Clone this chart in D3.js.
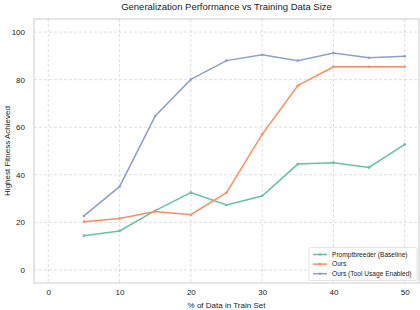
<!DOCTYPE html>
<html><head><meta charset="utf-8">
<script src="https://cdn.jsdelivr.net/npm/d3@7"></script>
<style>body{margin:0;background:#fff}svg{display:block}text{font-family:"Liberation Sans",Arial,sans-serif;fill:#222}</style>
</head><body>
<svg id="c" width="420" height="310"></svg>
<script>
const xVals = [5,10,15,20,25,30,35,40,45,50];
const baseline = [14.4,16.4,24.9,32.5,27.3,31.1,44.5,45.1,43.1,52.8];
const ours = [20.3,21.6,24.6,23.2,32.5,57,77.5,85.4,85.4,85.4];
const oursTool = [22.7,35,64.7,80.1,88,90.5,88,91.2,89.2,89.8];
const seriesNames = ["Promptbreeder (Baseline)","Ours","Ours (Tool Usage Enabled)"];
const colors = ["#66c2a5","#fc8d62","#8da0cb"];
const xTicks = [0,10,20,30,40,50];
const yTicks = [0,20,40,60,80,100];

const svg = d3.select("#c");
const L=34,R=419,T=19,B=283;
const x = d3.scaleLinear().domain([-2,52]).range([L,R]);
const y = d3.scaleLinear().domain([-5.5,105.5]).range([B,T]);

// grid
svg.append("g").selectAll("line").data(xTicks).join("line")
 .attr("x1",d=>x(d)).attr("x2",d=>x(d)).attr("y1",T).attr("y2",B)
 .attr("stroke","#d6d6d6").attr("stroke-width",0.8).attr("stroke-dasharray","3,2");
svg.append("g").selectAll("line").data(yTicks).join("line")
 .attr("y1",d=>y(d)).attr("y2",d=>y(d)).attr("x1",L).attr("x2",R)
 .attr("stroke","#d6d6d6").attr("stroke-width",0.8).attr("stroke-dasharray","3,2");

// frame
svg.append("rect").attr("x",L).attr("y",T).attr("width",R-L).attr("height",B-T)
 .attr("fill","none").attr("stroke","#cccccc").attr("stroke-width",1);

// axes
const xa = svg.append("g").attr("transform",`translate(0,${B})`)
 .call(d3.axisBottom(x).tickValues(xTicks).tickSize(0).tickPadding(6));
xa.select(".domain").remove();
xa.selectAll("text").attr("font-size",8).style("fill","#222");
const ya = svg.append("g").attr("transform",`translate(${L},0)`)
 .call(d3.axisLeft(y).tickValues(yTicks).tickSize(0).tickPadding(9));
ya.select(".domain").remove();
ya.selectAll("text").attr("font-size",8).style("fill","#222");

// lines
const data = [baseline,ours,oursTool];
const line = d3.line().x((d,i)=>x(xVals[i])).y(d=>y(d));
data.forEach((s,k)=>{
  svg.append("path").datum(s).attr("d",line).attr("fill","none")
   .attr("stroke",colors[k]).attr("stroke-width",1.5);
  svg.append("g").selectAll("circle").data(s).join("circle")
   .attr("cx",(d,i)=>x(xVals[i])).attr("cy",d=>y(d)).attr("r",1.3).attr("fill",colors[k]);
});

// title/labels
svg.append("text").attr("x",(L+R)/2).attr("y",10).attr("text-anchor","middle")
 .attr("font-size",9.5).text("Generalization Performance vs Training Data Size");
svg.append("text").attr("x",(L+R)/2).attr("y",307.5).attr("text-anchor","middle")
 .attr("font-size",8).text("% of Data in Train Set");
svg.append("text").attr("transform",`translate(10,${(T+B)/2}) rotate(-90)`).attr("text-anchor","middle")
 .attr("font-size",8).text("Highest Fitness Achieved");

// legend
const lg = svg.append("g");
lg.append("rect").attr("x",309).attr("y",247.5).attr("width",108).attr("height",33)
 .attr("fill","#fff").attr("fill-opacity",0.85).attr("stroke","#dddddd").attr("stroke-width",0.8).attr("rx",1.5);
seriesNames.forEach((n,k)=>{
  const yy = 254.5 + k*9.6;
  lg.append("line").attr("x1",313).attr("x2",327).attr("y1",yy).attr("y2",yy)
   .attr("stroke",colors[k]).attr("stroke-width",1.5);
  lg.append("circle").attr("cx",320).attr("cy",yy).attr("r",1.3).attr("fill",colors[k]);
  lg.append("text").attr("x",332).attr("y",yy+2.3).attr("font-size",6.6).text(n);
});
</script>
</body></html>
